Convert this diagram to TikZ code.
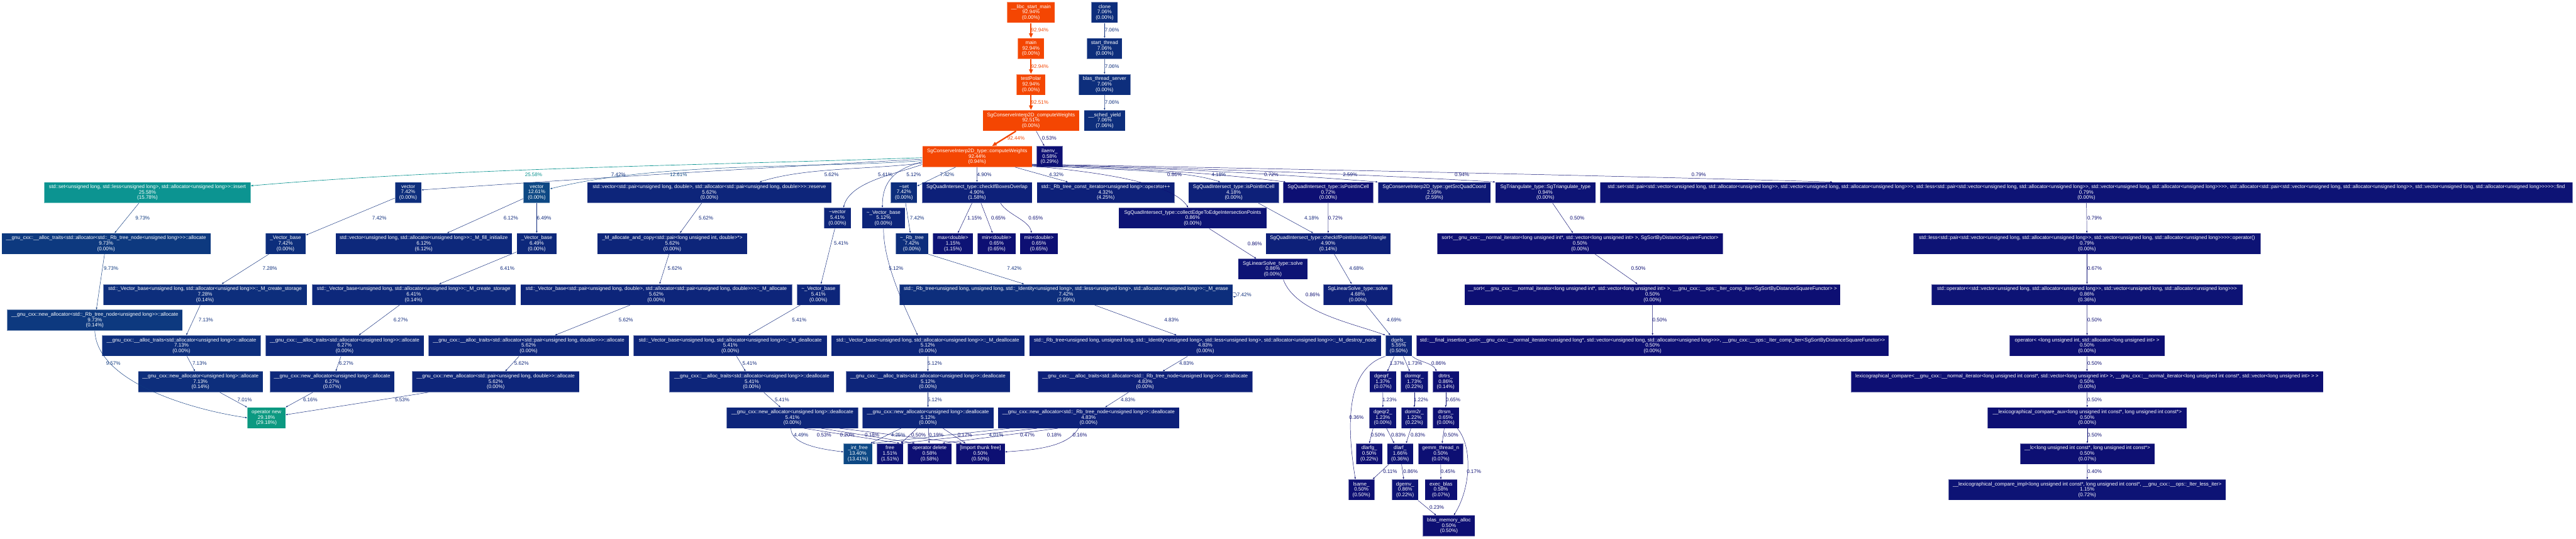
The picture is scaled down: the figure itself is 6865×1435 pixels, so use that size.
\documentclass[tikz,border=0pt]{standalone}
\usepackage{fontspec}
\newfontfamily\gpfont{Liberation Sans}
\usepackage{tikz}
\usetikzlibrary{arrows.meta}

\definecolor{hot}{RGB}{244,70,2}
\definecolor{teal29}{RGB}{12,153,129}
\definecolor{teal25}{RGB}{12,148,145}
\definecolor{blue13}{RGB}{13,72,132}
\definecolor{blue10}{RGB}{13,57,127}
\definecolor{blue7}{RGB}{13,46,124}
\definecolor{blue6}{RGB}{13,40,123}
\definecolor{blue5}{RGB}{13,37,122}
\definecolor{blue4}{RGB}{13,32,121}
\definecolor{blue2}{RGB}{13,24,118}
\definecolor{blue1}{RGB}{13,19,117}
\definecolor{blue0}{RGB}{13,15,115}

\tikzset{
  fn/.style={rectangle,fill=#1,draw=white,draw opacity=0.45,line width=0.8pt,
    text=white,font=\gpfont\fontsize{13.5}{14.5}\selectfont,align=center,
    inner sep=0pt,minimum height=55.6pt},
  lbl/.style={text=#1,font=\gpfont\fontsize{13.5}{14.5}\selectfont,inner sep=0pt},
  e/.style={draw=#1,line width=0.8pt,-{Triangle[length=5pt,width=3.6pt]}},
  ehot/.style={draw=hot,line width=3.7pt,-{Triangle[length=12pt,width=10pt]}},
  eteal/.style={draw=teal25,line width=1.1pt,-{Triangle[length=6pt,width=4.5pt]}},
}

\begin{document}
\begin{tikzpicture}[x=1pt,y=1pt,line join=round]
  \fill[white] (0,0) rectangle (6865,-1435);
  \useasboundingbox (0,0) rectangle (6865,-1435);

  % functions, row by row
  \node[fn=hot,minimum width=127pt] (libc) at (2747.5,-33.3) {\_\_libc\_start\_main\\92.94\%\\(0.00\%)};
  \node[fn=blue7,minimum width=70.5pt] (clone) at (2943.7,-33.3) {clone\\7.06\%\\(0.00\%)};
  \node[fn=hot,minimum width=71pt] (main) at (2747.5,-129.3) {main\\92.94\%\\(0.00\%)};
  \node[fn=blue7,minimum width=94pt] (sthread) at (2943.7,-129.3) {start\_thread\\7.06\%\\(0.00\%)};
  \node[fn=hot,minimum width=77pt] (tpolar) at (2747.5,-225.2) {testPolar\\92.94\%\\(0.00\%)};
  \node[fn=blue7,minimum width=139pt] (blasts) at (2943.5,-225.2) {blas\_thread\_server\\7.06\%\\(0.00\%)};
  \node[fn=hot,minimum width=257pt] (cw) at (2747.5,-321.2) {SgConserveInterp2D\_computeWeights\\92.51\%\\(0.00\%)};
  \node[fn=blue7,minimum width=110pt] (sched) at (2943.7,-321.2) {\_\_sched\_yield\\7.06\%\\(7.06\%)};
  \node[fn=hot,minimum width=292pt] (tcw) at (2604,-417.2) {SgConserveInterp2D\_type::computeWeights\\92.44\%\\(0.94\%)};
  \node[fn=blue0,minimum width=70pt] (ilaenv) at (2797,-417.2) {ilaenv\_\\0.58\%\\(0.29\%)};

  \node[fn=teal25,minimum width=550pt] (insert) at (393,-513.1) {std::set<unsigned long, std::less<unsigned long>, std::allocator<unsigned long>>::insert\\25.58\%\\(15.78\%)};
  \node[fn=blue7,minimum width=70.5pt] (vecA) at (1087.7,-513.1) {vector\\7.42\%\\(0.00\%)};
  \node[fn=blue13,minimum width=70.5pt] (vecB) at (1430.4,-513.1) {vector\\12.61\%\\(0.00\%)};
  \node[fn=blue5,minimum width=651pt] (reserve) at (1890.3,-513.1) {std::vector<std::pair<unsigned long, double>, std::allocator<std::pair<unsigned long, double>>>::reserve\\5.62\%\\(0.00\%)};
  \node[fn=blue7,minimum width=70pt] (dset) at (2409,-513.1) {\textasciitilde set\\7.42\%\\(0.00\%)};
  \node[fn=blue4,minimum width=293pt] (overlap) at (2603.5,-513.1) {SgQuadIntersect\_type::checkIfBoxesOverlap\\4.90\%\\(1.58\%)};
  \node[fn=blue4,minimum width=367pt] (rbinc) at (2946.6,-513.1) {std::\_Rb\_tree\_const\_iterator<unsigned long>::operator++\\4.32\%\\(4.25\%)};
  \node[fn=blue4,minimum width=241pt] (inCellA) at (3287.7,-513.1) {SgQuadIntersect\_type::isPointInCell\\4.18\%\\(0.00\%)};
  \node[fn=blue0,minimum width=240pt] (inCellB) at (3539.7,-513.1) {SgQuadIntersect\_type::isPointInCell\\0.72\%\\(0.00\%)};
  \node[fn=blue2,minimum width=301pt] (srcquad) at (3822.3,-513.1) {SgConserveInterp2D\_type::getSrcQuadCoord\\2.59\%\\(2.59\%)};
  \node[fn=blue1,minimum width=267pt] (triang) at (4118.5,-513.1) {SgTriangulate\_type::SgTriangulate\_type\\0.94\%\\(0.00\%)};
  \node[fn=blue1,minimum width=2592pt] (sfind) at (5560,-513.1) {std::set<std::pair<std::vector<unsigned long, std::allocator<unsigned long>>, std::vector<unsigned long, std::allocator<unsigned long>>>, std::less<std::pair<std::vector<unsigned long, std::allocator<unsigned long>>, std::vector<unsigned long, std::allocator<unsigned long>>>>, std::allocator<std::pair<std::vector<unsigned long, std::allocator<unsigned long>>, std::vector<unsigned long, std::allocator<unsigned long>>>>>::find\\0.79\%\\(0.00\%)};

  \node[fn=blue5,minimum width=71pt] (dvecA) at (2231.7,-581.1) {\textasciitilde vector\\5.41\%\\(0.00\%)};
  \node[fn=blue5,minimum width=115pt] (dvbase) at (2354.5,-581.1) {\textasciitilde\_Vector\_base\\5.12\%\\(0.00\%)};
  \node[fn=blue1,minimum width=395pt] (edgepts) at (3178.4,-581.1) {SgQuadIntersect\_type::collectEdgeToEdgeIntersectionPoints\\0.86\%\\(0.00\%)};

  \node[fn=blue10,minimum width=557pt] (atrbal) at (282.7,-649.1) {\_\_gnu\_cxx::\_\_alloc\_traits<std::allocator<std::\_Rb\_tree\_node<unsigned long>>>::allocate\\9.73\%\\(0.00\%)};
  \node[fn=blue7,minimum width=108pt] (vbA) at (761,-649.1) {\_Vector\_base\\7.42\%\\(0.00\%)};
  \node[fn=blue6,minimum width=470pt] (fillinit) at (1129.2,-649.1) {std::vector<unsigned long, std::allocator<unsigned long>>::\_M\_fill\_initialize\\6.12\%\\(6.12\%)};
  \node[fn=blue6,minimum width=107pt] (vbB) at (1430.4,-649.1) {\_Vector\_base\\6.49\%\\(0.00\%)};
  \node[fn=blue5,minimum width=400pt] (alcopy) at (1791.7,-649.1) {\_M\_allocate\_and\_copy<std::pair<long unsigned int, double>*>\\5.62\%\\(0.00\%)};
  \node[fn=blue7,minimum width=86.6pt] (drbtree) at (2430.3,-649.1) {\textasciitilde\_Rb\_tree\\7.42\%\\(0.00\%)};
  \node[fn=blue1,minimum width=107pt] (maxd) at (2539.6,-649.1) {max<double>\\1.15\%\\(1.15\%)};
  \node[fn=blue0,minimum width=102pt] (minA) at (2656,-649.1) {min<double>\\0.65\%\\(0.65\%)};
  \node[fn=blue0,minimum width=102pt] (minB) at (2768.8,-649.1) {min<double>\\0.65\%\\(0.65\%)};
  \node[fn=blue4,minimum width=333pt] (inTri) at (3539.5,-649.1) {SgQuadIntersect\_type::checkIfPointIsInsideTriangle\\4.90\%\\(0.14\%)};
  \node[fn=blue0,minimum width=761.5pt] (sortA) at (4210.8,-649.1) {sort<\_\_gnu\_cxx::\_\_normal\_iterator<long unsigned int*, std::vector<long unsigned int> >, SgSortByDistanceSquareFunctor>\\0.50\%\\(0.00\%)};
  \node[fn=blue1,minimum width=925.6pt] (lessop) at (5561.8,-649.1) {std::less<std::pair<std::vector<unsigned long, std::allocator<unsigned long>>, std::vector<unsigned long, std::allocator<unsigned long>>>>::operator()\\0.79\%\\(0.00\%)};

  \node[fn=blue1,minimum width=185pt] (solveA) at (3392,-717.1) {SgLinearSolve\_type::solve\\0.86\%\\(0.00\%)};

  \node[fn=blue7,minimum width=543pt] (crstA) at (546.4,-785) {std::\_Vector\_base<unsigned long, std::allocator<unsigned long>>::\_M\_create\_storage\\7.28\%\\(0.14\%)};
  \node[fn=blue6,minimum width=543pt] (crstB) at (1102.5,-785) {std::\_Vector\_base<unsigned long, std::allocator<unsigned long>>::\_M\_create\_storage\\6.41\%\\(0.14\%)};
  \node[fn=blue5,minimum width=724pt] (mallocp) at (1749,-785) {std::\_Vector\_base<std::pair<unsigned long, double>, std::allocator<std::pair<unsigned long, double>>>::\_M\_allocate\\5.62\%\\(0.00\%)};
  \node[fn=blue5,minimum width=115pt] (dvbA) at (2181,-785) {\textasciitilde\_Vector\_base\\5.41\%\\(0.00\%)};
  \node[fn=blue7,minimum width=889pt] (merase) at (2841,-785) {std::\_Rb\_tree<unsigned long, unsigned long, std::\_Identity<unsigned long>, std::less<unsigned long>, std::allocator<unsigned long>>::\_M\_erase\\7.42\%\\(2.59\%)};
  \node[fn=blue4,minimum width=185pt] (solveB) at (3618.5,-785) {SgLinearSolve\_type::solve\\4.68\%\\(0.00\%)};
  \node[fn=blue0,minimum width=1001.7pt] (isort) at (4403.8,-785) {\_\_sort<\_\_gnu\_cxx::\_\_normal\_iterator<long unsigned int*, std::vector<long unsigned int> >, \_\_gnu\_cxx::\_\_ops::\_Iter\_comp\_iter<SgSortByDistanceSquareFunctor> >\\0.50\%\\(0.00\%)};
  \node[fn=blue1,minimum width=830.3pt] (vlt) at (5561.8,-785) {std::operator<<std::vector<unsigned long, std::allocator<unsigned long>>, std::vector<unsigned long, std::allocator<unsigned long>>>\\0.86\%\\(0.36\%)};

  \node[fn=blue10,minimum width=467pt] (narbal) at (252.7,-853) {\_\_gnu\_cxx::new\_allocator<std::\_Rb\_tree\_node<unsigned long>>::allocate\\9.73\%\\(0.14\%)};

  \node[fn=blue7,minimum width=423pt] (atalA) at (483.6,-921.4) {\_\_gnu\_cxx::\_\_alloc\_traits<std::allocator<unsigned long>>::allocate\\7.13\%\\(0.00\%)};
  \node[fn=blue6,minimum width=422.5pt] (atalB) at (918.3,-921.4) {\_\_gnu\_cxx::\_\_alloc\_traits<std::allocator<unsigned long>>::allocate\\6.27\%\\(0.00\%)};
  \node[fn=blue5,minimum width=534.5pt] (atalP) at (1408.8,-921.4) {\_\_gnu\_cxx::\_\_alloc\_traits<std::allocator<std::pair<unsigned long, double>>>::allocate\\5.62\%\\(0.00\%)};
  \node[fn=blue5,minimum width=515.6pt] (mdeallA) at (1946.3,-921.4) {std::\_Vector\_base<unsigned long, std::allocator<unsigned long>>::\_M\_deallocate\\5.41\%\\(0.00\%)};
  \node[fn=blue5,minimum width=515pt] (mdeallB) at (2472.5,-921.4) {std::\_Vector\_base<unsigned long, std::allocator<unsigned long>>::\_M\_deallocate\\5.12\%\\(0.00\%)};
  \node[fn=blue4,minimum width=938pt] (destroy) at (3212,-921.4) {std::\_Rb\_tree<unsigned long, unsigned long, std::\_Identity<unsigned long>, std::less<unsigned long>, std::allocator<unsigned long>>::\_M\_destroy\_node\\4.83\%\\(0.00\%)};
  \node[fn=blue5,minimum width=71pt] (dgels) at (3727.6,-921.4) {dgels\_\\5.55\%\\(0.50\%)};
  \node[fn=blue0,minimum width=1258pt] (finsort) at (4404,-921.4) {std::\_\_final\_insertion\_sort<\_\_gnu\_cxx::\_\_normal\_iterator<unsigned long*, std::vector<unsigned long, std::allocator<unsigned long>>>, \_\_gnu\_cxx::\_\_ops::\_Iter\_comp\_iter<SgSortByDistanceSquareFunctor>>\\0.50\%\\(0.00\%)};
  \node[fn=blue0,minimum width=414pt] (oplt) at (5562,-921.4) {operator< <long unsigned int, std::allocator<long unsigned int> >\\0.50\%\\(0.00\%)};

  \node[fn=blue7,minimum width=332pt] (naalA) at (534.2,-1017.4) {\_\_gnu\_cxx::new\_allocator<unsigned long>::allocate\\7.13\%\\(0.14\%)};
  \node[fn=blue6,minimum width=332pt] (naalB) at (885.1,-1017.4) {\_\_gnu\_cxx::new\_allocator<unsigned long>::allocate\\6.27\%\\(0.07\%)};
  \node[fn=blue5,minimum width=446pt] (naalP) at (1321,-1017.4) {\_\_gnu\_cxx::new\_allocator<std::pair<unsigned long, double>>::allocate\\5.62\%\\(0.00\%)};
  \node[fn=blue5,minimum width=439pt] (atdeA) at (2003.6,-1017.4) {\_\_gnu\_cxx::\_\_alloc\_traits<std::allocator<unsigned long>>::deallocate\\5.41\%\\(0.00\%)};
  \node[fn=blue5,minimum width=438pt] (atdeB) at (2473,-1017.4) {\_\_gnu\_cxx::\_\_alloc\_traits<std::allocator<unsigned long>>::deallocate\\5.12\%\\(0.00\%)};
  \node[fn=blue4,minimum width=572.6pt] (atderb) at (3051.7,-1017.4) {\_\_gnu\_cxx::\_\_alloc\_traits<std::allocator<std::\_Rb\_tree\_node<unsigned long>>>::deallocate\\4.83\%\\(0.00\%)};
  \node[fn=blue1,minimum width=71pt] (dgeqrf) at (3685.1,-1017.4) {dgeqrf\_\\1.37\%\\(0.07\%)};
  \node[fn=blue1,minimum width=73.4pt] (dormqr) at (3769,-1017.4) {dormqr\_\\1.73\%\\(0.22\%)};
  \node[fn=blue0,minimum width=70.4pt] (dtrtrs) at (3852.7,-1017.4) {dtrtrs\_\\0.86\%\\(0.14\%)};
  \node[fn=blue0,minimum width=1258.4pt] (lexcmp) at (5561.8,-1017.4) {lexicographical\_compare<\_\_gnu\_cxx::\_\_normal\_iterator<long unsigned int const*, std::vector<long unsigned int> >, \_\_gnu\_cxx::\_\_normal\_iterator<long unsigned int const*, std::vector<long unsigned int> > >\\0.50\%\\(0.00\%)};

  \node[fn=teal29,minimum width=102pt] (opnew) at (710,-1113.3) {operator new\\29.18\%\\(29.18\%)};
  \node[fn=blue5,minimum width=350.5pt] (nadeA) at (2111.7,-1113.3) {\_\_gnu\_cxx::new\_allocator<unsigned long>::deallocate\\5.41\%\\(0.00\%)};
  \node[fn=blue5,minimum width=350pt] (nadeB) at (2473,-1113.3) {\_\_gnu\_cxx::new\_allocator<unsigned long>::deallocate\\5.12\%\\(0.00\%)};
  \node[fn=blue4,minimum width=484pt] (naderb) at (2901,-1113.3) {\_\_gnu\_cxx::new\_allocator<std::\_Rb\_tree\_node<unsigned long>>::deallocate\\4.83\%\\(0.00\%)};
  \node[fn=blue1,minimum width=72.4pt] (dgeqr2) at (3685.2,-1113.3) {dgeqr2\_\\1.23\%\\(0.00\%)};
  \node[fn=blue1,minimum width=70pt] (dorm2r) at (3769,-1113.3) {dorm2r\_\\1.22\%\\(0.22\%)};
  \node[fn=blue0,minimum width=70.4pt] (dtrsm) at (3852.7,-1113.3) {dtrsm\_\\0.65\%\\(0.00\%)};
  \node[fn=blue0,minimum width=531pt] (lexaux) at (5562.5,-1113.3) {\_\_lexicographical\_compare\_aux<long unsigned int const*, long unsigned int const*>\\0.50\%\\(0.00\%)};

  \node[fn=blue13,minimum width=76.7pt] (intfree) at (2286.4,-1209.3) {\_int\_free\\13.40\%\\(13.41\%)};
  \node[fn=blue1,minimum width=70.5pt] (free) at (2371.8,-1209.3) {free\\1.51\%\\(1.51\%)};
  \node[fn=blue0,minimum width=117.4pt] (opdel) at (2477.3,-1209.3) {operator delete\\0.58\%\\(0.58\%)};
  \node[fn=blue0,minimum width=130.3pt] (thunk) at (2612.9,-1209.3) {[Import thunk free]\\0.50\%\\(0.50\%)};
  \node[fn=blue0,minimum width=70pt] (dlarfg) at (3649,-1209.3) {dlarfg\_\\0.50\%\\(0.22\%)};
  \node[fn=blue1,minimum width=69.5pt] (dlarf) at (3731.3,-1209.3) {dlarf\_\\1.66\%\\(0.36\%)};
  \node[fn=blue0,minimum width=120.6pt] (gemm) at (3839.3,-1209.3) {gemm\_thread\_n\\0.50\%\\(0.07\%)};
  \node[fn=blue0,minimum width=359pt] (lc) at (5562.5,-1209.3) {\_\_lc<long unsigned int const*, long unsigned int const*>\\0.50\%\\(0.07\%)};

  \node[fn=blue0,minimum width=70pt] (lsame) at (3628,-1305.2) {lsame\_\\0.50\%\\(0.50\%)};
  \node[fn=blue1,minimum width=69.7pt] (dgemv) at (3744.6,-1305.2) {dgemv\_\\0.86\%\\(0.22\%)};
  \node[fn=blue0,minimum width=85.8pt] (execblas) at (3840,-1305.2) {exec\_blas\\0.58\%\\(0.07\%)};
  \node[fn=blue1,minimum width=738.5pt] (lexcimpl) at (5562.3,-1305.2) {\_\_lexicographical\_compare\_impl<long unsigned int const*, long unsigned int const*, \_\_gnu\_cxx::\_\_ops::\_Iter\_less\_iter>\\1.15\%\\(0.72\%)};

  \node[fn=blue0,minimum width=139.2pt] (blasmem) at (3861.4,-1401.2) {blas\_memory\_alloc\\0.50\%\\(0.50\%)};

  % calls
  \draw[ehot] (libc) -- (main);
  \draw[ehot] (main) -- (tpolar);
  \draw[ehot] (tpolar) -- (cw);
  \draw[ehot] ([xshift=-40pt]cw.south) -- ([xshift=40pt]tcw.north);
  \draw[e=blue0] ([xshift=14pt]cw.south) -- ([xshift=-14pt]ilaenv.north);
  \draw[e=blue7] (clone) -- (sthread);
  \draw[e=blue7] (sthread) -- (blasts);
  \draw[e=blue7] (blasts) -- (sched);

  \draw[eteal] ([yshift=-3pt]tcw.west) .. controls +(-537,-19) and +(535,47) .. ([yshift=18pt]insert.east);
  \draw[e=blue7] ([yshift=-7pt]tcw.west) .. controls +(-400,-21) and +(400,28) .. ([yshift=7pt]vecA.east);
  \draw[e=blue13] ([yshift=-11pt]tcw.west) .. controls +(-298,-21) and +(290,72) .. ([yshift=10pt]vecB.east);
  \draw[e=blue5] ([yshift=-17pt]tcw.west) .. controls +(-130,-18) and +(125,40) .. ([xshift=134pt]reserve.north);
  \draw[e=blue5] ([yshift=-21pt]tcw.west) .. controls +(-68,-25) and +(19,70) .. ([xshift=16pt]dvecA.north);
  \draw[e=blue5] ([yshift=-14pt]tcw.west) .. controls +(-70,-19) and +(0,73) .. ([xshift=-3pt]dvbase.north);
  \draw[e=blue7] (tcw) -- (dset);
  \draw[e=blue4] (tcw) -- (overlap);
  \draw[e=blue4] (tcw) -- (rbinc);
  \draw[e=blue0] ([yshift=3pt]tcw.south east) .. controls +(220,-20) and +(-40,60) .. ([xshift=-12pt]edgepts.north);
  \draw[e=blue4] ([yshift=4pt]tcw.south east) .. controls +(250,-12) and +(-90,30) .. ([xshift=-36pt]inCellA.north);
  \draw[e=blue0] ([yshift=5pt]tcw.south east) .. controls +(300,-10) and +(-200,25) .. ([xshift=7pt]inCellB.north west);
  \draw[e=blue2] ([yshift=6pt]tcw.south east) .. controls +(400,-10) and +(-280,22) .. (srcquad.north west);
  \draw[e=blue0] ([yshift=7pt]tcw.south east) .. controls +(500,-12) and +(-380,22) .. (triang.north west);
  \draw[e=blue0] ([yshift=8pt]tcw.south east) .. controls +(800,-15) and +(-650,18) .. ([xshift=-677pt]sfind.north);

  \draw[e=blue10] (insert) -- (atrbal);
  \draw[e=blue10] (atrbal) -- (narbal);
  \draw[e=blue10] (narbal.south) .. controls +(5,-140) and +(-139,20) .. (opnew.west);
  \draw[e=blue7] (vecA) -- (vbA);
  \draw[e=blue7] (vbA) -- (crstA);
  \draw[e=blue7] (crstA) -- (atalA);
  \draw[e=blue7] (atalA) -- (naalA);
  \draw[e=blue7] (naalA) -- (opnew);
  \draw[e=blue6] (vecB) -- (fillinit);
  \draw[e=blue6] (vecB) -- (vbB);
  \draw[e=blue6] (vbB) -- (crstB);
  \draw[e=blue6] (crstB) -- (atalB);
  \draw[e=blue6] (atalB) -- (naalB);
  \draw[e=blue6] (naalB) -- (opnew);
  \draw[e=blue5] (reserve) -- (alcopy);
  \draw[e=blue5] (alcopy) -- (mallocp);
  \draw[e=blue5] (mallocp) -- (atalP);
  \draw[e=blue5] (atalP) -- (naalP);
  \draw[e=blue5] (naalP) -- (opnew);
  \draw[e=blue5] (dvecA) -- (dvbA);
  \draw[e=blue5] (dvbA) -- (mdeallA);
  \draw[e=blue5] (mdeallA) -- (atdeA);
  \draw[e=blue5] (atdeA) -- (nadeA);
  \draw[e=blue4] ([xshift=-4pt]nadeA.south) .. controls +(0,-46) and +(-46,6) .. ([yshift=5pt]intfree.west);
  \draw[e=blue0] ([xshift=31pt]nadeA.south) -- ([xshift=25pt]free.north);
  \draw[e=blue0] ([xshift=77pt]nadeA.south) -- ([xshift=-40pt]opdel.north);
  \draw[e=blue0] ([xshift=126pt]nadeA.south) -- ([xshift=-50pt]thunk.north);

  \draw[e=blue7] (dset) -- (drbtree);
  \draw[e=blue7] (drbtree.south east) -- ([xshift=-112pt]merase.north);
  \draw[e=blue7] ([yshift=5pt]merase.east) .. controls +(12,3) and +(12,-3) .. ([yshift=-5pt]merase.east);
  \draw[e=blue4] (merase) -- (destroy);
  \draw[e=blue4] (destroy) -- (atderb);
  \draw[e=blue4] (atderb) -- (naderb);
  \draw[e=blue4] ([xshift=-210pt]naderb.south) -- (intfree.north east);
  \draw[e=blue0] ([xshift=-137pt]naderb.south) -- ([xshift=30pt]free.north);
  \draw[e=blue0] ([xshift=-82pt]naderb.south) -- ([xshift=35pt]opdel.north);
  \draw[e=blue0] ([xshift=-27pt]naderb.south) .. controls +(-31,-54) and +(62,5) .. ([yshift=5pt]thunk.east);
  \draw[e=blue5] (dvbase.south) .. controls +(0,-90) and +(-38,81) .. ([xshift=-27pt]mdeallB.north);
  \draw[e=blue5] (mdeallB) -- (atdeB);
  \draw[e=blue5] (atdeB) -- (nadeB);
  \draw[e=blue4] ([xshift=-72pt]nadeB.south) -- ([xshift=-5pt]intfree.north east);
  \draw[e=blue0] ([xshift=-29pt]nadeB.south) -- ([xshift=29pt]free.north);
  \draw[e=blue0] (nadeB) -- (opdel);
  \draw[e=blue0] ([xshift=40pt]nadeB.south) -- ([xshift=-40pt]thunk.north);

  \draw[e=blue1] (overlap) -- (maxd);
  \draw[e=blue0] (overlap) -- (minA);
  \draw[e=blue0] ([xshift=63pt]overlap.south) .. controls +(17,-30) and +(-6,34) .. ([xshift=-20pt]minB.north);
  \draw[e=blue0] (edgepts) -- (solveA);
  \draw[e=blue4] ([xshift=66pt]inCellA.south) -- ([xshift=-40pt]inTri.north);
  \draw[e=blue0] (inCellB) -- (inTri);
  \draw[e=blue4] (inTri) -- (solveB);
  \draw[e=blue0] ([xshift=28pt]solveA.south) .. controls +(32,-87) and +(-87,32) .. (dgels.north west);
  \draw[e=blue4] (solveB) -- (dgels);
  \draw[e=blue0] (triang) -- (sortA);
  \draw[e=blue0] (sortA) -- (isort);
  \draw[e=blue0] (isort) -- (finsort);
  \draw[e=blue0] (sfind) -- (lessop);
  \draw[e=blue0] (lessop) -- (vlt);
  \draw[e=blue0] (vlt) -- (oplt);
  \draw[e=blue0] (oplt) -- (lexcmp);
  \draw[e=blue0] (lexcmp) -- (lexaux);
  \draw[e=blue0] (lexaux) -- (lc);
  \draw[e=blue0] (lc) -- (lexcimpl);

  \draw[e=blue1] (dgels) -- (dgeqrf);
  \draw[e=blue1] (dgels) -- (dormqr);
  \draw[e=blue0] (dgels.south east) .. controls +(17,-15) and +(-8,22) .. ([xshift=-25pt]dtrtrs.north);
  \draw[e=blue0] (dgels.south west) .. controls (3580,-985) and (3592,-1150) .. ([xshift=-16pt]lsame.north);
  \draw[e=blue1] (dgeqrf) -- (dgeqr2);
  \draw[e=blue1] (dormqr) -- (dorm2r);
  \draw[e=blue0] (dtrtrs) -- (dtrsm);
  \draw[e=blue0] ([xshift=-26pt]dgeqr2.south) -- (dlarfg.north);
  \draw[e=blue0] ([xshift=10pt]dgeqr2.south) -- ([xshift=-16pt]dlarf.north);
  \draw[e=blue0] ([xshift=-9pt]dorm2r.south) -- ([xshift=16pt]dlarf.north);
  \draw[e=blue0] (dtrsm) -- (gemm);
  \draw[e=blue0] ([xshift=31pt]dtrsm.south) .. controls (3925,-1190) and (3920,-1300) .. ([xshift=13pt]blasmem.north);
  \draw[e=blue0] (dlarf) -- (lsame);
  \draw[e=blue0] (dlarf) -- (dgemv);
  \draw[e=blue0] (gemm) -- (execblas);
  \draw[e=blue0] (dgemv) -- (blasmem);

  % call percentages
  \node[lbl=hot] (p1) at (2771,-80.8) {92.94\%};
  \node[lbl=hot] (p2) at (2771,-176.8) {92.94\%};
  \node[lbl=hot] (p3) at (2771,-272.7) {92.51\%};
  \node[lbl=hot] (p4) at (2707.6,-368.7) {92.44\%};
  \node[lbl=blue0] (p5) at (2796,-368.7) {0.53\%};
  \node[lbl=blue7] (p6) at (2963.5,-80.8) {7.06\%};
  \node[lbl=blue7] (p7) at (2963.5,-176.8) {7.06\%};
  \node[lbl=blue7] (p8) at (2963.5,-272.7) {7.06\%};

  \node[lbl=teal25] (p9) at (1422,-465) {25.58\%};
  \node[lbl=blue7] (p10) at (1648,-465) {7.42\%};
  \node[lbl=blue13] (p11) at (1808,-465) {12.61\%};
  \node[lbl=blue5] (p12) at (2216,-465) {5.62\%};
  \node[lbl=blue5] (p13) at (2359,-465) {5.41\%};
  \node[lbl=blue5] (p14) at (2435,-465) {5.12\%};
  \node[lbl=blue7] (p15) at (2524,-465) {7.42\%};
  \node[lbl=blue4] (p16) at (2623,-465) {4.90\%};
  \node[lbl=blue4] (p17) at (2815,-465) {4.32\%};
  \node[lbl=blue0] (p18) at (3130,-465) {0.86\%};
  \node[lbl=blue4] (p19) at (3248,-465) {4.18\%};
  \node[lbl=blue0] (p20) at (3388,-465) {0.72\%};
  \node[lbl=blue2] (p21) at (3598,-465) {2.59\%};
  \node[lbl=blue0] (p22) at (3896,-465) {0.94\%};
  \node[lbl=blue0] (p23) at (4527,-465) {0.79\%};

  \node[lbl=blue10] (p24) at (380,-581) {9.73\%};
  \node[lbl=blue7] (p25) at (1011,-581) {7.42\%};
  \node[lbl=blue6] (p26) at (1361.5,-581) {6.12\%};
  \node[lbl=blue6] (p27) at (1450,-581) {6.49\%};
  \node[lbl=blue5] (p28) at (1881.5,-581) {5.62\%};
  \node[lbl=blue7] (p29) at (2444,-581) {7.42\%};
  \node[lbl=blue1] (p30) at (2597,-581) {1.15\%};
  \node[lbl=blue0] (p31) at (2660.6,-581) {0.65\%};
  \node[lbl=blue0] (p32) at (2760,-581) {0.65\%};
  \node[lbl=blue4] (p33) at (3495.5,-581) {4.18\%};
  \node[lbl=blue0] (p34) at (3558.6,-581) {0.72\%};
  \node[lbl=blue0] (p35) at (4203,-581) {0.50\%};
  \node[lbl=blue0] (p36) at (5582,-581) {0.79\%};
  \node[lbl=blue5] (p37) at (2241.6,-649) {5.41\%};
  \node[lbl=blue0] (p38) at (3344,-649) {0.86\%};

  \node[lbl=blue10] (p39) at (296,-716) {9.73\%};
  \node[lbl=blue7] (p40) at (719,-715) {7.28\%};
  \node[lbl=blue6] (p41) at (1352,-715) {6.41\%};
  \node[lbl=blue5] (p42) at (1798.6,-715) {5.62\%};
  \node[lbl=blue5] (p43) at (2388,-715) {5.12\%};
  \node[lbl=blue7] (p44) at (2703,-715) {7.42\%};
  \node[lbl=blue4] (p45) at (3615,-715) {4.68\%};
  \node[lbl=blue0] (p46) at (4366,-715) {0.50\%};
  \node[lbl=blue0] (p47) at (5582,-715) {0.67\%};
  \node[lbl=blue7] (p48) at (3315.6,-785) {7.42\%};
  \node[lbl=blue0] (p49) at (3498.5,-785) {0.86\%};

  \node[lbl=blue7] (p50) at (548.6,-853) {7.13\%};
  \node[lbl=blue6] (p51) at (1068,-853) {6.27\%};
  \node[lbl=blue5] (p52) at (1668,-853) {5.62\%};
  \node[lbl=blue5] (p53) at (2130,-853) {5.41\%};
  \node[lbl=blue4] (p54) at (3122,-853) {4.83\%};
  \node[lbl=blue4] (p55) at (3715,-853) {4.69\%};
  \node[lbl=blue0] (p56) at (4423,-853) {0.50\%};
  \node[lbl=blue0] (p57) at (5582,-853) {0.50\%};

  \node[lbl=blue10] (p58) at (302,-968) {9.57\%};
  \node[lbl=blue7] (p59) at (532,-968) {7.13\%};
  \node[lbl=blue6] (p60) at (922.6,-968) {6.27\%};
  \node[lbl=blue5] (p61) at (1390,-968) {5.62\%};
  \node[lbl=blue5] (p62) at (1998,-968) {5.41\%};
  \node[lbl=blue5] (p63) at (2491,-968) {5.12\%};
  \node[lbl=blue4] (p64) at (3162,-968) {4.83\%};
  \node[lbl=blue1] (p65) at (3723,-968) {1.37\%};
  \node[lbl=blue1] (p66) at (3770.6,-968) {1.73\%};
  \node[lbl=blue0] (p67) at (3834,-968) {0.86\%};
  \node[lbl=blue0] (p68) at (5582,-968) {0.50\%};

  \node[lbl=blue7] (p69) at (652,-1065) {7.01\%};
  \node[lbl=blue6] (p70) at (827,-1065) {6.16\%};
  \node[lbl=blue5] (p71) at (1072,-1065) {5.53\%};
  \node[lbl=blue5] (p72) at (2084,-1065) {5.41\%};
  \node[lbl=blue5] (p73) at (2491,-1065) {5.12\%};
  \node[lbl=blue4] (p74) at (3006,-1065) {4.83\%};
  \node[lbl=blue1] (p75) at (3703,-1065) {1.23\%};
  \node[lbl=blue1] (p76) at (3786.7,-1065) {1.22\%};
  \node[lbl=blue0] (p77) at (3872.5,-1065) {0.65\%};
  \node[lbl=blue0] (p78) at (5582,-1065) {0.50\%};
  \node[lbl=blue0] (p79) at (3615,-1112) {0.36\%};

  \node[lbl=blue4] (p80) at (2135,-1160) {4.49\%};
  \node[lbl=blue0] (p81) at (2196,-1160) {0.53\%};
  \node[lbl=blue0] (p82) at (2257.7,-1160) {0.20\%};
  \node[lbl=blue0] (p83) at (2324,-1160) {0.18\%};
  \node[lbl=blue4] (p84) at (2393.7,-1160) {4.25\%};
  \node[lbl=blue0] (p85) at (2448,-1160) {0.50\%};
  \node[lbl=blue0] (p86) at (2495,-1160) {0.19\%};
  \node[lbl=blue0] (p87) at (2571,-1160) {0.17\%};
  \node[lbl=blue4] (p88) at (2655,-1160) {4.01\%};
  \node[lbl=blue0] (p89) at (2738,-1160) {0.47\%};
  \node[lbl=blue0] (p90) at (2809.5,-1160) {0.18\%};
  \node[lbl=blue0] (p91) at (2877.7,-1160) {0.16\%};
  \node[lbl=blue0] (p92) at (3672,-1160) {0.50\%};
  \node[lbl=blue0] (p93) at (3726.6,-1160) {0.83\%};
  \node[lbl=blue0] (p94) at (3778.6,-1160) {0.83\%};
  \node[lbl=blue0] (p95) at (3867,-1160) {0.50\%};
  \node[lbl=blue0] (p96) at (5582,-1160) {0.50\%};

  \node[lbl=blue0] (p97) at (3704.6,-1257) {0.11\%};
  \node[lbl=blue0] (p98) at (3759,-1257) {0.86\%};
  \node[lbl=blue0] (p99) at (3858.6,-1257) {0.45\%};
  \node[lbl=blue0] (p100) at (3928,-1257) {0.17\%};
  \node[lbl=blue0] (p101) at (5582,-1257) {0.40\%};
  \node[lbl=blue0] (p102) at (3829,-1352) {0.23\%};
\end{tikzpicture}
\end{document}
